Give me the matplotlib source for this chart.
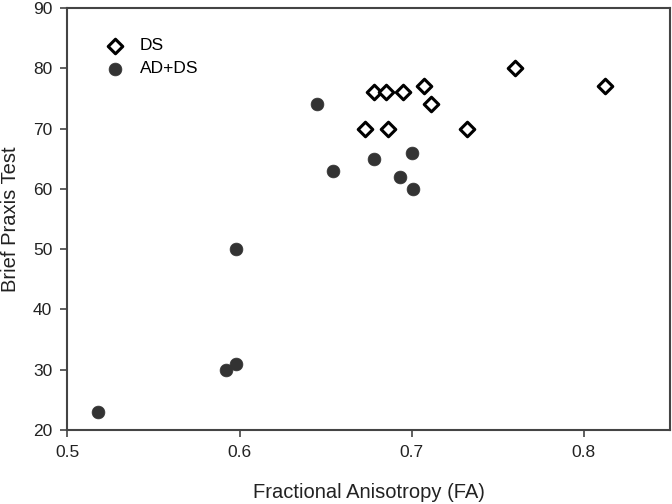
import matplotlib
matplotlib.use("Agg")
import matplotlib.pyplot as plt

plt.rcParams['font.family'] = ['Liberation Sans', 'DejaVu Sans']

ds_fa = [0.673, 0.678, 0.685, 0.686, 0.695, 0.707, 0.711, 0.732, 0.760, 0.812]
ds_bpt = [70, 76, 76, 70, 76, 77, 74, 70, 80, 77]

adds_fa = [0.518, 0.592, 0.598, 0.598, 0.645, 0.654, 0.678, 0.700, 0.693, 0.701]
adds_bpt = [23, 30, 31, 50, 74, 63, 65, 66, 62, 60]

xticks = [0.5, 0.6, 0.7, 0.8]
xticklabels = ["0.5", "0.6", "0.7", "0.8"]
yticks = [20, 30, 40, 50, 60, 70, 80, 90]

fig = plt.figure(figsize=(6.72, 5.04), dpi=100)
ax = fig.add_axes([0.1004, 0.1468, 0.8966, 0.8373])

ax.scatter(ds_fa, ds_bpt, marker='D', s=55, facecolor='white', edgecolor='black',
           linewidth=2.2, label='DS', zorder=3)
ax.scatter(adds_fa, adds_bpt, marker='o', s=85, facecolor='#333333', edgecolor='#333333',
           linewidth=0.5, label='AD+DS', zorder=3)

ax.set_xlim(0.5, 0.85)
ax.set_ylim(20, 90)
ax.set_xticks(xticks)
ax.set_xticklabels(xticklabels)
ax.set_yticks(yticks)

for s in ax.spines.values():
    s.set_color('#444444')
    s.set_linewidth(1.5)
ax.tick_params(direction='out', length=5, width=1.2, colors='#444444',
               labelcolor='#222222', labelsize=12.5, pad=6)

ax.set_xlabel('Fractional Anisotropy (FA)', fontsize=14.5, color='#222222', labelpad=16)
ax.set_ylabel('Brief Praxis Test', fontsize=14.5, color='#222222', labelpad=9)

leg = ax.legend(loc='upper left', bbox_to_anchor=(0.045, 0.945), frameon=False,
                fontsize=12.5, handletextpad=0.6, labelspacing=0.45, borderaxespad=0,
                handlelength=1.6)

fig.savefig('out.png', dpi=100)
